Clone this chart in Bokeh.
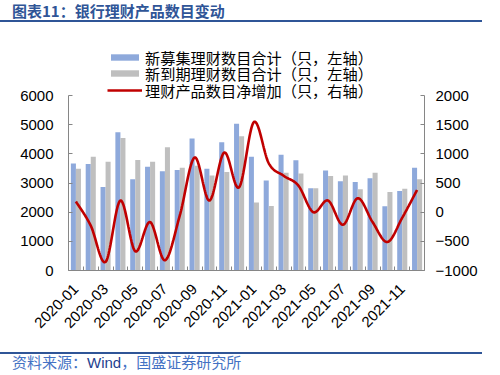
import math
import numpy as np
from bokeh.plotting import figure
from bokeh.models import (Range1d, LinearAxis, FixedTicker, ColumnDataSource, Legend,
                          LegendItem, Div)
from bokeh.transform import dodge
from bokeh.layouts import column
from bokeh.embed import file_html
from bokeh.resources import INLINE

# ---------------- data ----------------
months = ["2020-01", "2020-02", "2020-03", "2020-04", "2020-05", "2020-06",
          "2020-07", "2020-08", "2020-09", "2020-10", "2020-11", "2020-12",
          "2021-01", "2021-02", "2021-03", "2021-04", "2021-05", "2021-06",
          "2021-07", "2021-08", "2021-09", "2021-10", "2021-11", "2021-12"]
new_issued = [3670, 3650, 2860, 4740, 3125, 3560, 3400, 3445, 4525, 3490, 4400, 5030,
              3900, 3090, 3966, 3784, 2818, 3432, 3057, 3034, 3159, 2205, 2727, 3523]
matured = [3490, 3900, 3730, 4545, 3785, 3730, 4227, 3523, 3590, 3260, 3375, 4600,
           2330, 2215, 3352, 3330, 2818, 3239, 3261, 2784, 3352, 2693, 2807, 3125]
net_increase = [182, -230, -852, 199, -670, -170, -824, -60, 937, 199, 1022, 426,
                1545, 838, 625, 455, 0, 199, -216, 239, -170, -511, -95, 380]
left_ticks = [0, 1000, 2000, 3000, 4000, 5000, 6000]
right_ticks = [-1000, -500, 0, 500, 1000, 1500, 2000]

title_text = "图表11：银行理财产品数目变动"
source_text_a = "资料来源："
source_text_b = "Wind"
source_text_c = "，国盛证券研究所"
legend_labels = ["新募集理财数目合计（只，左轴）",
                 "新到期理财数目合计（只，左轴）",
                 "理财产品数目净增加（只，右轴）"]

BLUE = "#8EA9DB"
GREY = "#BFBFBF"
RED = "#C00000"
AXIS = "#868686"
DARKBLUE = "#2F5597"
CJK = "Noto Sans CJK SC"
LAT = "Liberation Sans"

idx = list(range(len(months)))

# smoothed line (Catmull-Rom through the monthly points, like Excel's smoothing)
def smooth(xs, ys, n=24):
    xs = np.asarray(xs, float); ys = np.asarray(ys, float)
    ox, oy = [], []
    m = len(xs)
    for i in range(m - 1):
        p0 = (xs[max(i - 1, 0)], ys[max(i - 1, 0)])
        p1 = (xs[i], ys[i]); p2 = (xs[i + 1], ys[i + 1])
        p3 = (xs[min(i + 2, m - 1)], ys[min(i + 2, m - 1)])
        t = np.linspace(0, 1, n, endpoint=(i == m - 2))
        for k in range(2):
            a0, a1, a2, a3 = p0[k], p1[k], p2[k], p3[k]
            v = 0.5 * (2 * a1 + (-a0 + a2) * t + (2 * a0 - 5 * a1 + 4 * a2 - a3) * t ** 2
                       + (-a0 + 3 * a1 - 3 * a2 + a3) * t ** 3)
            (ox if k == 0 else oy).extend(v.tolist())
    return ox, oy

sx, sy = smooth(idx, net_increase)

# ---------------- figure ----------------
W, H = 490, 328
px_per_unit = 175.0 / 6000.0
frame_h = H - 13 - 82
left_top = frame_h / px_per_unit
right_top = -1000 + frame_h / px_per_unit / 2.0

p = figure(width=W, height=H, output_backend="svg", toolbar_location=None,
           x_range=Range1d(-0.5, len(months) - 0.5), y_range=Range1d(0, left_top),
           min_border_left=68, min_border_right=66, min_border_top=13, min_border_bottom=82,
           tools="")
p.outline_line_color = None
p.grid.visible = False
p.background_fill_color = "white"
p.border_fill_color = "white"
p.extra_y_ranges = {"right": Range1d(-1000, right_top)}

src = ColumnDataSource(dict(x=idx, new=new_issued, mat=matured))
r_new = p.vbar(x=dodge("x", -0.17), top="new", width=0.34, bottom=0, source=src,
               fill_color=BLUE, line_color=None)
r_mat = p.vbar(x=dodge("x", 0.17), top="mat", width=0.34, bottom=0, source=src,
               fill_color=GREY, line_color=None)
r_net = p.line(sx, sy, y_range_name="right", line_color=RED, line_width=2.6)

# axes
def style_axis(ax):
    ax.axis_line_color = AXIS
    ax.major_tick_line_color = AXIS
    ax.major_tick_in = 4
    ax.major_tick_out = 0
    ax.minor_tick_line_color = None
    ax.major_label_text_font = LAT
    ax.major_label_text_font_size = "15px"
    ax.major_label_text_color = "#000000"

yl = p.yaxis[0]
style_axis(yl)
yl.ticker = FixedTicker(ticks=left_ticks)
yl.bounds = (0, 6000)
yl.major_label_standoff = 15

yr = LinearAxis(y_range_name="right", ticker=FixedTicker(ticks=right_ticks), bounds=(-1000, 2000))
style_axis(yr)
yr.major_label_standoff = 11
p.add_layout(yr, "right")

xa = p.xaxis[0]
style_axis(xa)
xa.ticker = FixedTicker(ticks=idx[::2], minor_ticks=[i - 0.5 for i in range(len(months) + 1)])
xa.major_label_overrides = {i: months[i] for i in idx[::2]}
xa.major_tick_line_color = None
xa.minor_tick_line_color = AXIS
xa.minor_tick_in = 4
xa.minor_tick_out = 0
xa.major_label_orientation = math.pi / 4
xa.major_label_standoff = 16

# legends (one per row for exact placement)
rows = [(r_new, 202.5), (r_mat, 186), (r_net, 169.5)]
for (r, vy), lab in zip(rows, legend_labels):
    lg = Legend(items=[LegendItem(label=lab, renderers=[r])], location=(39, vy),
                glyph_width=35, glyph_height=8, label_standoff=3, padding=0, margin=0,
                spacing=0, border_line_color=None, background_fill_alpha=0,
                label_text_font=CJK, label_text_font_size="15.2px", label_height=16,
                label_text_color="#000000")
    p.add_layout(lg)

header = Div(text=(f'<div style="font-family:\'{CJK}\';font-size:15px;font-weight:bold;'
                   f'color:{DARKBLUE};line-height:22px;height:22px;padding-left:12px;'
                   f'padding-bottom:0px;border-bottom:2px solid {DARKBLUE};width:482px;'
                   f'white-space:nowrap;">{title_text}</div>'),
             width=494, height=24, margin=(0, 0, 0, 0))
footer = Div(text=(f'<div style="font-family:\'{CJK}\';font-size:15px;color:#4472C4;'
                   f'line-height:15px;height:15px;padding-left:12px;border-top:2px solid {DARKBLUE};'
                   f'width:482px;white-space:nowrap;">{source_text_a}'
                   f'<span style="font-family:\'{LAT}\';color:#1F3F8F;">{source_text_b}</span>'
                   f'{source_text_c}</div>'),
             width=494, height=17, margin=(0, 0, 0, 0))
p.margin = (0, 0, 0, 0)

layout = column(header, p, footer, spacing=0)
open("out.html", "w").write(file_html(layout, INLINE))
